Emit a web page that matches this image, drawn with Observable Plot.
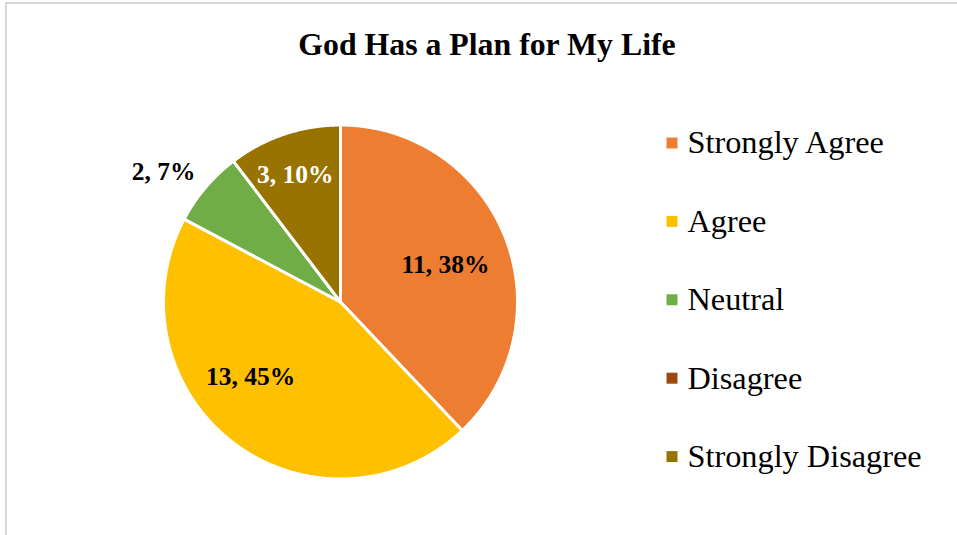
<!DOCTYPE html>
<html>
<head>
<meta charset="utf-8">
<script src="https://cdn.jsdelivr.net/npm/d3@7"></script>
<script src="https://cdn.jsdelivr.net/npm/@observablehq/plot@0.6"></script>
<style>
  html, body { margin: 0; padding: 0; background: #fff; overflow: hidden; }
  #wrap { position: relative; width: 957px; height: 535px; }
  #border { position: absolute; left: 5px; top: 2px; width: 1000px; height: 600px; border: 2px solid #d9d9d9; box-sizing: border-box; }
  #chart { position: absolute; left: 0; top: 0; }
</style>
</head>
<body>
<div id="wrap"><div id="border"></div><div id="chart"></div></div>
<script>
// ---- data ----
const title = "God Has a Plan for My Life";
const categories = ["Strongly Agree", "Agree", "Neutral", "Disagree", "Strongly Disagree"];
const counts = [11, 13, 2, 0, 3];
const percents = ["38%", "45%", "7%", "0%", "10%"];
const colors = ["#ED7D31", "#FFC000", "#70AD47", "#9E480E", "#997300"];

// ---- layout (not data) ----
const W = 957, H = 535;
const cx = 340, cy = 301.5, R = 177;
const labelRadius = [0.63, 0.66, 1.24, 0, 0.76];     // fraction of radius
const labelAngleShift = [2, 13, -4, 0, -1];            // degrees
const labelColor = ["black", "black", "black", "black", "white"];
const font = "'Liberation Serif', 'Times New Roman', serif";

const rows = categories.map((c, i) => ({category: c, count: counts[i], pct: percents[i], i}));
const arcs = d3.pie().sort(null).value(d => d.count)(rows);

const slicePts = [];
for (const a of arcs) {
  if (a.data.count <= 0) continue;
  const c = a.data.category;
  slicePts.push({x: 0, y: 0, category: c});
  const n = Math.max(2, Math.ceil((a.endAngle - a.startAngle) / 0.01));
  for (let k = 0; k <= n; k++) {
    const t = a.startAngle + (a.endAngle - a.startAngle) * k / n;
    slicePts.push({x: Math.sin(t), y: Math.cos(t), category: c});
  }
}

const labels = arcs.filter(a => a.data.count > 0).map(a => {
  const i = a.data.i;
  const m = (a.startAngle + a.endAngle) / 2 + labelAngleShift[i] * Math.PI / 180;
  const r = labelRadius[i];
  return {x: Math.sin(m) * r, y: Math.cos(m) * r, text: `${a.data.count}, ${a.data.pct}`, color: labelColor[i]};
});

const legendX = 671.5, legendY0 = 142.5, legendStep = 78.4;
const legendMarks = categories.flatMap((c, i) => [
  Plot.dot([c], {frameAnchor: "top-left", dx: legendX, dy: legendY0 + i * legendStep,
    symbol: "square", r: 6.2, fill: d => d, stroke: null}),
  Plot.text([c], {frameAnchor: "top-left", lineAnchor: "middle", dx: legendX + 15.5, dy: legendY0 + i * legendStep,
    text: d => d, textAnchor: "start", fontSize: 32.3, fontFamily: font, fill: "black"})
]);

const chart = Plot.plot({
  width: W, height: H, margin: 0,
  style: {background: "transparent", overflow: "visible"},
  x: {domain: [-cx / R, (W - cx) / R], axis: null},
  y: {domain: [-(H - cy) / R, cy / R], axis: null},
  color: {domain: categories, range: colors},
  marks: [
    Plot.line(slicePts, {x: "x", y: "y", z: "category", fill: "category", stroke: "white",
      strokeWidth: 3, curve: "linear-closed"}),
    Plot.text(labels, {x: "x", y: "y", text: "text", fill: d => d.color, fontSize: 25.5,
      fontWeight: "bold", fontFamily: font}),
    Plot.text([title], {frameAnchor: "top-left", lineAnchor: "middle", dx: 486.5, dy: 44.5, text: d => d,
      textAnchor: "middle", fontSize: 31.8, fontWeight: "bold", fontFamily: font, fill: "black"}),
    ...legendMarks
  ]
});
document.getElementById("chart").appendChild(chart);
</script>
</body>
</html>
